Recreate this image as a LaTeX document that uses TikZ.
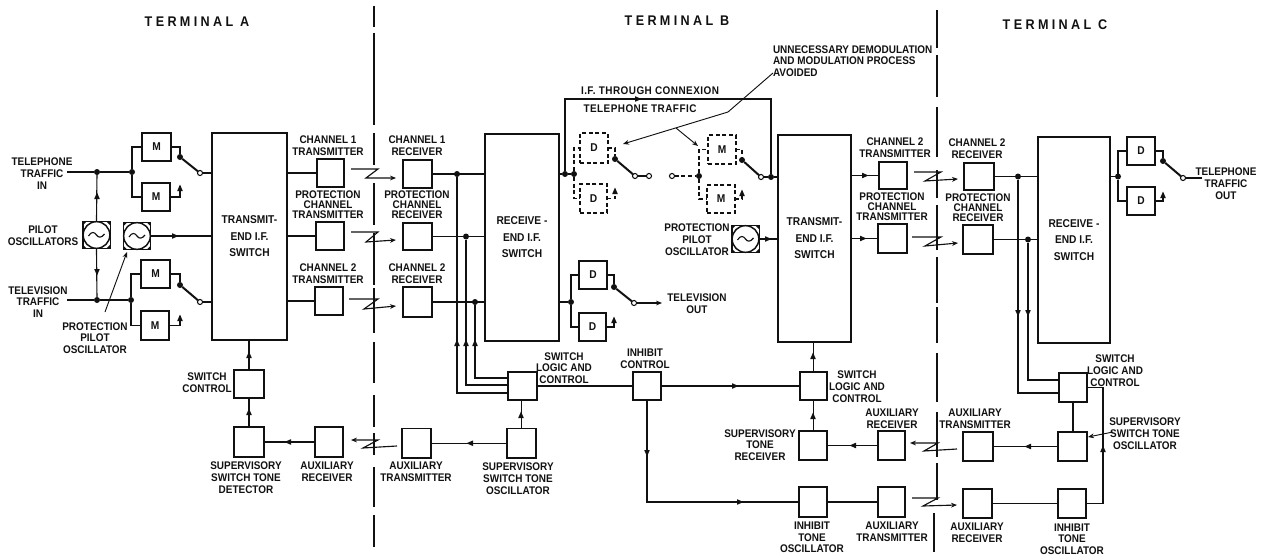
\documentclass[tikz,border=0pt]{standalone}
\usepackage{fontspec}
\setmainfont{Liberation Sans}[FakeStretch=0.9]
\newfontfamily\ttlfont{Liberation Sans}[FakeStretch=0.9,LetterSpace=24]
\newfontfamily\spfont{Liberation Sans}[FakeStretch=0.9,LetterSpace=4]
\usetikzlibrary{arrows.meta}
\definecolor{ink}{HTML}{111111}
\tikzset{
  box/.style={draw=ink,line width=1.1pt,inner sep=0pt,outer sep=0pt,font=\fontsize{8.5}{10}\selectfont\bfseries,text=ink,align=center},
  dbox/.style={box,dashed,dash pattern=on 3pt off 2pt,line width=.9pt},
  lab/.style={inner sep=0pt,outer sep=0pt,align=center,text=ink,font=\fontsize{8.3}{8.8}\selectfont\bfseries},
  tight/.style={font=\fontsize{8.3}{7.6}\selectfont\bfseries},
  spaced/.style={font=\fontsize{8.3}{8.8}\spfont\bfseries},
  ttl/.style={font=\fontsize{10.5}{12}\ttlfont\bfseries},
  wire/.style={draw=ink,line width=.85pt},
  dwire/.style={wire,dash pattern=on 3pt off 2pt},
  arm/.style={draw=ink,line width=1.5pt},
  lead/.style={draw=ink,line width=.7pt},
  term/.style={draw=ink,line width=1.1pt},
  tip/.style={-{Stealth[length=4.5pt,width=3.6pt]}},
  dot/.style={circle,fill=ink,inner sep=0pt,minimum size=4.5pt,outer sep=0pt},
  pv/.style={circle,fill=ink,inner sep=0pt,minimum size=4.5pt,outer sep=0pt},
  con/.style={circle,draw=ink,fill=white,line width=.8pt,inner sep=0pt,minimum size=3.8pt,outer sep=0pt},
}
\newcommand{\bx}[7][box]{\pgfmathsetmacro\cxa{(#3+#5)/2}\pgfmathsetmacro\cya{(#4+#6)/2}\pgfmathsetmacro\wwa{(#5-#3)*.75}\pgfmathsetmacro\hha{(#6-#4)*.75}\node[#1,minimum width=\wwa pt,minimum height=\hha pt] (#2) at (\cxa,\cya) {#7};}
\newcommand{\lbl}[5][]{\node[lab,#1] (#2) at (#3,#4) {#5};}
\newcommand{\mku}[2]{\fill[ink] (#1,#2-3.5) -- (#1+2.8,#2+3) -- (#1-2.8,#2+3) -- cycle;}
\newcommand{\mkd}[2]{\fill[ink] (#1,#2+3.5) -- (#1+2.8,#2-3) -- (#1-2.8,#2-3) -- cycle;}
\newcommand{\mkr}[2]{\fill[ink] (#1+3.5,#2) -- (#1-3,#2+2.8) -- (#1-3,#2-2.8) -- cycle;}
\newcommand{\mkl}[2]{\fill[ink] (#1-3.5,#2) -- (#1+3,#2+2.8) -- (#1+3,#2-2.8) -- cycle;}
\newcommand{\oscbox}[3]{%
  \node[draw=ink,line width=1.1pt,minimum size=20.6pt,inner sep=0pt,outer sep=0pt] (#1) at (#2,#3) {};
  \node[draw=ink,circle,line width=1.1pt,minimum size=20pt,inner sep=0pt,outer sep=0pt] (#1c) at (#2,#3) {};
  \fill[ink] (#1.north west) -- ++(4,0) -- ++(-4,4) -- cycle;
  \fill[ink] (#1.north east) -- ++(-4,0) -- ++(4,4) -- cycle;
  \fill[ink] (#1.south west) -- ++(4,0) -- ++(-4,-4) -- cycle;
  \fill[ink] (#1.south east) -- ++(-4,0) -- ++(4,-4) -- cycle;
  \draw[wire] (#2-8,#3+1) .. controls (#2-5,#3-4) and (#2-2,#3-3) .. (#2,#3) .. controls (#2+2,#3+3) and (#2+5,#3+3) .. (#2+8,#3-1);
}
\newcommand{\zig}[9]{%
  \coordinate (#1a) at (#2,#3); \coordinate (#1b) at (#4,#3); \coordinate (#1c) at (#5,#6); \coordinate (#1d) at (#7,#8);
  \draw[wire,#9] (#1a) -- (#1b) -- (#1c) -- (#1d);
}
\begin{document}
\begin{tikzpicture}[x=.75pt,y=-.75pt]
\useasboundingbox (0,0) rectangle (1268,560);
% terminal divisions
\foreach \a/\b in {6/27,33/125,133/165,183/225,233/285,288/333,342/383,395/427,433/455,467/507,515/547}{\draw[term] (374,\a) -- (374,\b);}
\foreach \a/\b in {10/48,55/97,107/157,170/198,205/250,257/303,307/343,353/402,412/457,463/500}{\draw[term] (937,\a) -- (937,\b);}
\draw[term] (934,513) -- (934,552);
% titles
\lbl[ttl]{tA}{197}{22}{TERMINAL A}
\lbl[ttl]{tB}{677}{21}{TERMINAL B}
\lbl[ttl]{tC}{1055}{25}{TERMINAL C}
% ---- Terminal A boxes
\bx{mA1}{142}{133}{171}{161}{M}
\bx{mA2}{142}{183}{170}{211}{M}
\bx{mA3}{141}{260}{170}{288}{M}
\bx{mA4}{141}{311}{169}{340}{M}
\bx[box,font=\fontsize{8.5}{12.4}\selectfont\bfseries]{swA}{212}{133}{287}{340}{TRANSMIT-\\END I.F.\\SWITCH}
\bx{tx1}{317}{159}{344}{187}{}
\bx{txP}{316}{222}{344}{250}{}
\bx{tx2}{315}{287}{343}{315}{}
\bx{rx1}{403}{160}{432}{188}{}
\bx{rxP}{403}{223}{432}{250}{}
\bx{rx2}{403}{287}{432}{317}{}
\oscbox{oA}{96.5}{235}
\oscbox{oP}{137}{236}
\coordinate (inA) at (67,172);
\coordinate (inB) at (67,300);
\node[dot] (jA1) at (97,172) {};
\node[dot] (jA2) at (132,172) {};
\node[dot] (jA3) at (97,300) {};
\node[dot] (jA4) at (131,300) {};
\draw[wire] (inA) -- (jA1) -- (jA2);
\draw[wire] (inB) -- (jA3) -- (jA4);
\draw[wire] (jA1) -- (oA.north);
\draw[wire] (jA3) -- (oA.south);
\mku{97}{196} \mkd{97}{272}
\draw[wire] (jA2) |- (mA1.west);
\draw[wire] (jA2) |- (mA2.west);
\draw[wire] (jA4) |- (mA3.west);
\draw[wire] (jA4) |- (mA4.west);
\node[pv] (pA1) at (180,157) {};
\node[pv] (pA2) at (180,285) {};
\node[con] (cA1) at (200,173) {};
\node[con] (cA2) at (200,302) {};
\draw[wire] (mA1.east) -| (pA1);
\draw[wire] (mA3.east) -| (pA2);
\draw[arm] (pA1) -- (cA1);
\draw[arm] (pA2) -- (cA2);
\draw[wire] (cA1) -- (swA.west |- cA1);
\draw[wire] (cA2) -- (swA.west |- cA2);
\coordinate (hA1) at (180,187);
\coordinate (hA2) at (180,317);
\draw[wire] (mA2.east) -| (hA1); \mku{180}{188}
\draw[wire] (mA4.east) -| (hA2); \mku{180}{318}
\draw[wire] (oP.east) -- (swA.west |- oP.east); \mkr{175}{236}
\draw[wire] (swA.east |- tx1.west) -- (tx1.west);
\draw[wire] (swA.east |- txP.west) -- (txP.west);
\draw[wire] (swA.east |- tx2.west) -- (tx2.west);
\zig{zA}{351}{169}{378}{366}{178}{396}{178}{tip}
\zig{zB}{351}{232}{378}{366}{242}{396}{240}{tip}
\zig{zC}{349}{299}{378}{364}{309}{396}{306}{tip}
\coordinate (lpa) at (105,312);
\coordinate (lpb) at (127,252);
\draw[lead,tip] (lpa) -- (lpb);
% labels A
\lbl{l1}{42}{173.5}{TELEPHONE\\TRAFFIC\\IN}
\lbl{l2}{43}{236}{PILOT\\OSCILLATORS}
\lbl{l3}{38}{302}{TELEVISION\\TRAFFIC\\IN}
\lbl{l4}{95}{338}{PROTECTION\\PILOT\\OSCILLATOR}
\lbl{l5}{328}{146}{CHANNEL 1\\TRANSMITTER}
\lbl[tight]{l6}{328}{205}{PROTECTION\\CHANNEL\\TRANSMITTER}
\lbl{l7}{328}{274}{CHANNEL 2\\TRANSMITTER}
\lbl{l8}{417}{146}{CHANNEL 1\\RECEIVER}
\lbl[tight]{l9}{417}{205}{PROTECTION\\CHANNEL\\RECEIVER}
\lbl{l10}{417}{274}{CHANNEL 2\\RECEIVER}
% ---- Terminal B
\bx[box,font=\fontsize{8.5}{12.4}\selectfont\bfseries]{swB}{485}{134}{559}{341}{RECEIVE -\\END I.F.\\SWITCH}
\bx[box,font=\fontsize{8.5}{12.4}\selectfont\bfseries]{swT}{778}{135}{851}{342}{TRANSMIT-\\END I.F.\\SWITCH}
\bx[dbox]{dU}{580}{133}{608}{163}{D}
\bx[dbox]{dL}{580}{184}{607}{213}{D}
\bx[dbox]{mU}{708}{135}{736}{164}{M}
\bx[dbox]{mL}{707}{185}{735}{213}{M}
\bx{dT1}{579}{261}{607}{289}{D}
\bx{dT2}{579}{313}{606}{341}{D}
\oscbox{oB}{745.5}{239}
\node[dot] (jB1) at (457,174) {};
\node[dot] (jB2) at (466,236.5) {};
\node[dot] (jB3) at (475,302) {};
\draw[wire] (rx1.east) -- (swB.west |- rx1.east);
\draw[wire] (rxP.east) -- (swB.west |- rxP.east);
\draw[wire] (rx2.east) -- (swB.west |- rx2.east);
\bx{slB}{508}{372}{537}{400}{}
\bx{inC}{633}{372}{661}{400}{}
\bx{slT}{800}{372}{827}{400}{}
\bx{stR}{799}{431}{827}{460}{}
\bx{arU}{878}{431}{905}{460}{}
\bx{inO}{799}{487}{827}{517}{}
\bx{atL}{878}{487}{905}{517}{}
\coordinate (kB1) at (508,393);
\coordinate (kB2) at (508,385);
\coordinate (kB3) at (508,378);
\draw[wire] (jB1) |- (kB1);
\draw[wire] (jB2) |- (kB2);
\draw[wire] (jB3) |- (kB3);
\mku{457}{343} \mku{466}{343} \mku{475}{343}
% through connexion
\node[dot] (jB5) at (565,174) {};
\node[dot] (jB6) at (574,174) {};
\node[dot] (jB7) at (699,176) {};
\node[dot] (jB8) at (771,177) {};
\coordinate (tc1) at (565,99);
\coordinate (tc2) at (771,99);
\draw[wire] (swB.east |- jB5) -- (jB5) -- (jB6);
\draw[wire] (jB5) -- (tc1) -- (tc2) -- (jB8);
\mkr{638}{99}
\draw[dwire] (jB6) |- (dU.west);
\draw[dwire] (jB6) |- (dL.west);
\node[pv] (pB1) at (615,159) {};
\node[pv] (pB2) at (742,160) {};
\node[con] (cB1) at (635,176) {};
\node[con] (cB2) at (649,176) {};
\node[con] (cB3) at (672,176) {};
\node[con] (cB4) at (761,177) {};
\draw[dwire] (dU.east) -| (pB1);
\draw[dwire] (mU.east) -| (pB2);
\draw[arm] (pB1) -- (cB1);
\draw[arm] (pB2) -- (cB4);
\draw[wire] (cB1) -- (cB2);
\draw[dwire] (cB3) -- (jB7);
\draw[dwire] (jB7) |- (mU.west);
\draw[dwire] (jB7) |- (mL.west);
\draw[wire] (cB4) -- (jB8) -- (swT.west |- jB8);
\coordinate (hB1) at (615,190);
\coordinate (hB2) at (742,192);
\draw[dwire] (dL.east) -| (hB1); \mku{615}{191}
\draw[dwire] (mL.east) -| (hB2); \mku{742}{193}
\draw[wire] (oB.east) -- (swT.west |- oB.east); \mkr{768}{239}
% TV out
\node[dot] (jB9) at (571,302) {};
\draw[wire] (swB.east |- jB9) -- (jB9);
\draw[wire] (jB9) |- (dT1.west);
\draw[wire] (jB9) |- (dT2.west);
\node[pv] (pT) at (614,287) {};
\node[con] (cT) at (634,303) {};
\draw[wire] (dT1.east) -| (pT);
\draw[arm] (pT) -- (cT);
\coordinate (oT) at (662,303);
\draw[wire,tip] (cT) -- (oT);
\coordinate (hT) at (614,319);
\draw[wire] (dT2.east) -| (hT); \mku{614}{320}
% traffic leader
\coordinate (la) at (773,73);
\coordinate (lb) at (728,112);
\coordinate (lc) at (623,144);
\coordinate (ld) at (676,128);
\coordinate (le) at (698,146);
\draw[lead,tip] (la) -- (lb) -- (lc);
\draw[lead,tip] (ld) -- (le);
% labels B
\lbl[spaced]{l11}{650}{91}{I.F. THROUGH CONNEXION}
\lbl[spaced]{l12}{640}{109}{TELEPHONE TRAFFIC}
\lbl[align=left,anchor=west]{l13}{773}{61}{UNNECESSARY DEMODULATION\\AND MODULATION PROCESS\\AVOIDED}
\lbl{l14}{697}{239.5}{PROTECTION\\PILOT\\OSCILLATOR}
\lbl{l15}{697}{304}{TELEVISION\\OUT}
\lbl{l16}{564}{368}{SWITCH\\LOGIC AND\\CONTROL}
\lbl{l17}{645}{358.5}{INHIBIT\\CONTROL}
\lbl{l18}{857}{386.5}{SWITCH\\LOGIC AND\\CONTROL}
\lbl{l19}{892}{418.5}{AUXILIARY\\RECEIVER}
\lbl{l20}{760}{445}{SUPERVISORY\\TONE\\RECEIVER}
\lbl{l21}{812}{537.5}{INHIBIT\\TONE\\OSCILLATOR}
\lbl{l22}{892}{532}{AUXILIARY\\TRANSMITTER}
% lower B wires
\draw[wire] (slB.east) -- (inC.west);
\draw[wire] (inC.east) -- (slT.west); \mkr{735}{386}
\coordinate (kI) at (647,502);
\draw[wire] (inC.south -| kI) -- (kI) -- (inO.west |- kI);
\mkd{647}{453} \mkr{740}{502}
\draw[wire] (inO.east) -- (atL.west);
\draw[wire] (arU.west) -- (stR.east); \mkl{853}{445.5}
\draw[wire] (stR.north -| slT.south) -- (slT.south); \mku{813}{416}
\draw[wire] (slT.north) -- (slT.north |- swT.south); \mku{813}{356}
\zig{zD}{910}{443}{938}{924}{451}{957}{449}{{Stealth[length=4.5pt,width=3.6pt]}-}
\zig{zE}{912}{498}{938}{923}{506}{957}{505}{tip}
% ---- Terminal B lower left
\bx{swC}{234}{370}{264}{398}{}
\bx{supD}{234}{427}{264}{457}{}
\bx{arA}{315}{427}{343}{457}{}
\bx{atB}{402}{428.5}{431}{458}{}
\bx{supO}{507}{428.5}{536}{458}{}
\draw[wire] (swC.north) -- (swC.north |- swA.south); \mku{249}{355}
\draw[wire] (supD.north) -- (swC.south); \mku{249}{412}
\draw[wire] (arA.west) -- (supD.east); \mkl{288}{442}
\draw[wire] (supO.west) -- (atB.east); \mkl{470}{443.25}
\draw[wire] (supO.north) -- (supO.north |- slB.south); \mku{521}{415}
\zig{zF}{351}{440}{378}{363}{448}{397}{446}{{Stealth[length=4.5pt,width=3.6pt]}-}
\lbl{l23}{207}{383}{SWITCH\\CONTROL}
\lbl{l24}{246}{477.5}{SUPERVISORY\\SWITCH TONE\\DETECTOR}
\lbl{l25}{327}{471.5}{AUXILIARY\\RECEIVER}
\lbl{l26}{416}{471.5}{AUXILIARY\\TRANSMITTER}
\lbl{l27}{518}{478.5}{SUPERVISORY\\SWITCH TONE\\OSCILLATOR}
% ---- Terminal C
\bx{txC}{879}{162}{907}{189}{}
\bx{txQ}{878}{224}{907}{253}{}
\bx{rxC}{964}{163}{994}{190}{}
\bx{rxQ}{963}{225}{993}{254}{}
\bx[box,font=\fontsize{8.5}{12.4}\selectfont\bfseries]{swR}{1038}{137}{1110}{343}{RECEIVE -\\END I.F.\\SWITCH}
\bx{dC1}{1127}{137}{1155}{165}{D}
\bx{dC2}{1127}{187}{1155}{215}{D}
\bx{slC}{1059}{373}{1087}{402}{}
\bx{supC}{1058}{432}{1087}{461}{}
\bx{atC}{963}{432}{993}{461}{}
\bx{arC}{963}{489}{992}{518}{}
\bx{inD}{1058}{489}{1086}{518}{}
\draw[wire] (swT.east |- txC.west) -- (txC.west); \mkr{865}{175.5}
\draw[wire] (swT.east |- txQ.west) -- (txQ.west); \mkr{863}{238.5}
\zig{zG}{914}{172}{941}{925}{181}{958}{179}{tip}
\zig{zH}{912}{237}{941}{925}{246}{958}{243}{tip}
\node[dot] (jC1) at (1018,176.5) {};
\node[dot] (jC2) at (1028,239.5) {};
\draw[wire] (rxC.east) -- (swR.west |- rxC.east);
\draw[wire] (rxQ.east) -- (swR.west |- rxQ.east);
\coordinate (kC1) at (1059,393);
\coordinate (kC2) at (1059,380);
\draw[wire] (jC1) |- (kC1);
\draw[wire] (jC2) |- (kC2);
\mkd{1018}{313} \mkd{1028}{313}
\draw[wire] (slC.south) -- (slC.south |- supC.north);
\draw[wire] (supC.west) -- (atC.east); \mkl{1028}{446.5}
\draw[wire] (inD.west) -- (arC.east);
\coordinate (kC3) at (1103,503.5);
\draw[wire] (inD.east) -- (kC3) -- (kC3 |- slC.east) -- (slC.east); \mku{1103}{449}
\coordinate (lsa) at (1113,432);
\coordinate (lsb) at (1088,437);
\draw[lead,tip] (lsa) -- (lsb);
\node[dot] (jC3) at (1118,176.5) {};
\draw[wire] (swR.east |- jC3) -- (jC3);
\draw[wire] (jC3) |- (dC1.west);
\draw[wire] (jC3) |- (dC2.west);
\node[pv] (pC) at (1163,161) {};
\node[con] (cC) at (1183,178) {};
\draw[wire] (dC1.east) -| (pC);
\draw[arm] (pC) -- (cC);
\coordinate (oC) at (1202,178);
\draw[wire] (cC) -- (oC);
\coordinate (hC) at (1163,194);
\draw[wire] (dC2.east) -| (hC); \mku{1163}{195}
\lbl{l28}{895}{148}{CHANNEL 2\\TRANSMITTER}
\lbl[tight]{l29}{892}{206.5}{PROTECTION\\CHANNEL\\TRANSMITTER}
\lbl{l30}{977}{148.5}{CHANNEL 2\\RECEIVER}
\lbl[tight]{l31}{978}{207.5}{PROTECTION\\CHANNEL\\RECEIVER}
\lbl{l32}{1226}{183.5}{TELEPHONE\\TRAFFIC\\OUT}
\lbl{l33}{1115}{370.5}{SWITCH\\LOGIC AND\\CONTROL}
\lbl{l34}{1145}{433.5}{SUPERVISORY\\SWITCH TONE\\OSCILLATOR}
\lbl{l35}{975}{419}{AUXILIARY\\TRANSMITTER}
\lbl{l36}{977}{532.5}{AUXILIARY\\RECEIVER}
\lbl{l37}{1072}{539}{INHIBIT\\TONE\\OSCILLATOR}
\end{tikzpicture}
\end{document}
